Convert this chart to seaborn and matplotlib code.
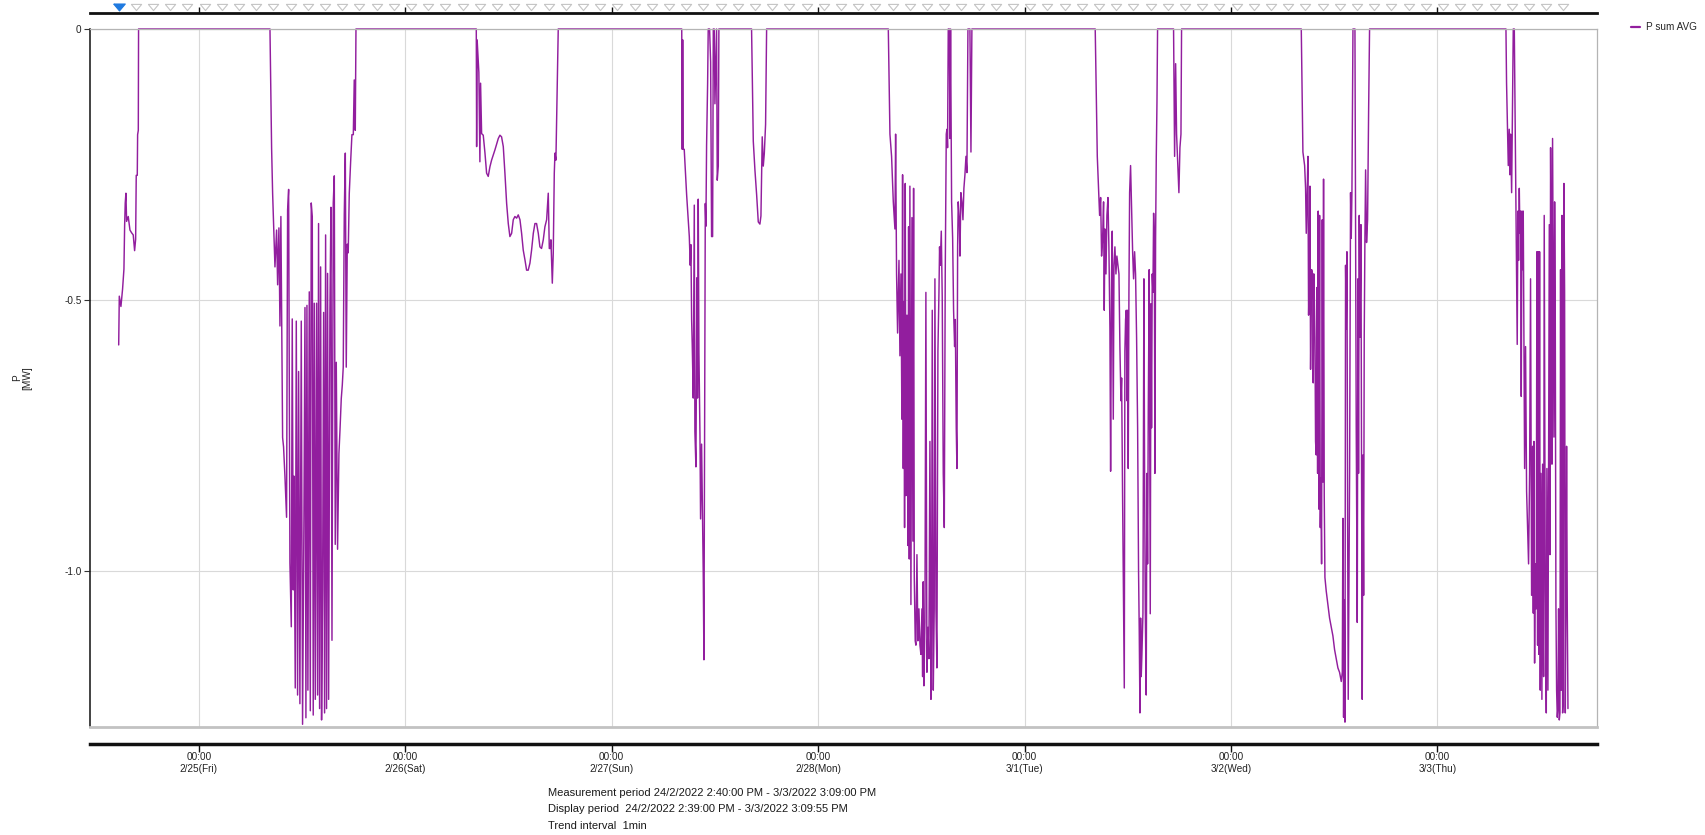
import numpy as np
import pandas as pd
import matplotlib
matplotlib.use("Agg")
import matplotlib.pyplot as plt
import matplotlib.dates as mdates
from matplotlib.ticker import FuncFormatter
import seaborn as sns

# ---------------- data (hours of day, P in MW) ----------------
day_0224 = "2022-02-24"
h_0224 = [14.67, 14.74, 14.93, 15.12, 15.28, 15.36, 15.43, 15.51, 15.59, 15.78,
          15.98, 16.17, 16.36, 16.52, 16.64, 16.71, 16.83, 16.87, 16.95, 16.98]
p_0224 = [-0.583, -0.493, -0.512, -0.480, -0.443, -0.363, -0.321, -0.303, -0.355, -0.346,
          -0.371, -0.376, -0.380, -0.409, -0.388, -0.270, -0.270, -0.195, -0.187, 0.0]

day_0225 = "2022-02-25"
h_0225 = [8.26, 8.45, 8.57, 8.84, 9.03, 9.15, 9.30, 9.42, 9.53, 9.73, 9.84, 10.00, 10.19,
          10.31, 10.43, 10.58, 10.74, 10.85, 10.97, 11.05, 11.20, 11.32, 11.47, 11.59,
          11.74, 11.90, 12.05, 12.21, 12.33, 12.44, 12.56, 12.67, 12.83, 12.95, 13.06,
          13.18, 13.29, 13.41, 13.53, 13.68, 13.80, 13.91, 14.03, 14.15, 14.26, 14.38,
          14.50, 14.61, 14.73, 14.84, 14.96, 15.08, 15.23, 15.35, 15.47, 15.62, 15.74,
          15.85, 15.97, 16.12, 16.28, 16.40, 16.55, 16.67, 16.78, 16.90, 17.02, 17.13,
          17.25, 17.36, 17.48, 17.64, 17.79, 17.95, 18.06, 18.18, 18.26]
p_0225 = [0.0, -0.220, -0.304, -0.439, -0.371, -0.472, -0.367, -0.548, -0.346, -0.754,
          -0.771, -0.825, -0.901, -0.334, -0.296, -0.985, -1.103, -0.535, -1.035, -0.825,
          -1.216, -0.539, -1.229, -0.632, -1.245, -0.539, -1.283, -0.901, -0.514, -1.271,
          -0.510, -1.220, -0.485, -1.258, -0.321, -0.346, -1.266, -0.506, -1.237, -0.506,
          -1.229, -0.359, -1.254, -0.439, -1.275, -1.035, -0.523, -1.262, -0.380, -1.254,
          -0.451, -1.237, -0.523, -0.329, -1.128, -0.321, -0.271, -0.951, -0.615, -0.960,
          -0.783, -0.741, -0.682, -0.657, -0.624, -0.342, -0.229, -0.624, -0.397, -0.413,
          -0.304, -0.245, -0.195, -0.195, -0.094, -0.187, 0.0]

day_0226 = "2022-02-26"
h_0226 = [8.25, 8.29, 8.35, 8.55, 8.67, 8.75, 8.87, 9.06, 9.26, 9.45, 9.64, 9.84, 10.03,
          10.42, 10.81, 11.00, 11.19, 11.39, 11.58, 11.78, 11.97, 12.16, 12.36, 12.55,
          12.74, 12.94, 13.13, 13.33, 13.52, 13.71, 13.91, 14.10, 14.29, 14.49, 14.68,
          14.88, 15.07, 15.26, 15.46, 15.65, 15.84, 16.04, 16.23, 16.43, 16.62, 16.74,
          16.85, 16.93, 17.09, 17.20, 17.32, 17.40, 17.51, 17.59, 17.78]
p_0226 = [0.0, -0.217, -0.020, -0.080, -0.245, -0.100, -0.193, -0.196, -0.229, -0.266,
          -0.272, -0.254, -0.242, -0.223, -0.202, -0.196, -0.199, -0.217, -0.266, -0.322,
          -0.359, -0.383, -0.377, -0.352, -0.346, -0.349, -0.343, -0.352, -0.377, -0.408,
          -0.426, -0.445, -0.445, -0.432, -0.408, -0.377, -0.359, -0.359, -0.377, -0.402,
          -0.405, -0.389, -0.365, -0.352, -0.303, -0.405, -0.405, -0.389, -0.469, -0.414,
          -0.266, -0.229, -0.242, -0.168, 0.0]

day_0227 = "2022-02-27"
h_0227 = [8.14, 8.20, 8.25, 8.32, 8.43, 8.71, 8.90, 9.02, 9.13, 9.21, 9.29, 9.36, 9.48,
          9.60, 9.67, 9.79, 9.91, 9.98, 10.06, 10.14, 10.26, 10.33, 10.45, 10.57, 10.64,
          10.72, 10.80, 10.88, 10.95, 11.03, 11.15, 11.22, 11.38, 11.50, 11.61, 11.73,
          11.81, 11.92, 12.00, 12.19, 12.27, 12.39, 12.46, 16.26, 16.46, 16.65, 16.85,
          17.04, 17.23, 17.35, 17.50, 17.62, 17.74, 17.89, 18.01]
p_0227 = [0.0, -0.222, -0.020, -0.222, -0.222, -0.306, -0.352, -0.383, -0.436, -0.398,
          -0.536, -0.582, -0.681, -0.325, -0.743, -0.808, -0.459, -0.681, -0.314, -0.597,
          -0.750, -0.904, -0.766, -0.911, -1.003, -1.164, -0.758, -0.322, -0.364, -0.214,
          -0.100, 0.0, 0.0, -0.061, -0.383, -0.383, 0.0, 0.0, -0.138, 0.0, -0.279, -0.253,
          0.0, 0.0, -0.207, -0.260, -0.306, -0.356, -0.360, -0.345, -0.199, -0.253, -0.230,
          -0.176, 0.0]

day_0228 = "2022-02-28"
h_0228 = [8.16, 8.35, 8.54, 8.74, 8.93, 9.01, 9.12, 9.24, 9.40, 9.51, 9.63, 9.74, 9.82,
          9.90, 9.98, 10.05, 10.13, 10.21, 10.33, 10.44, 10.52, 10.60, 10.67, 10.79, 10.91,
          11.02, 11.10, 11.18, 11.29, 11.37, 11.49, 11.60, 11.72, 11.84, 11.95, 12.07,
          12.15, 12.22, 12.30, 12.42, 12.53, 12.65, 12.77, 12.88, 13.00, 13.12, 13.19,
          13.27, 13.39, 13.50, 13.58, 13.70, 13.81, 13.93, 14.05, 14.12, 14.20, 14.32,
          14.43, 14.55, 14.67, 14.78, 14.90, 14.98, 15.05, 15.13, 15.25, 15.33, 15.40,
          15.52, 15.64, 15.75, 15.87, 15.95, 16.06, 16.14, 16.22, 16.29, 16.41, 16.49,
          16.60, 16.72, 16.84, 16.95, 17.07, 17.19, 17.30, 17.42, 17.50, 17.65, 17.77,
          17.88]
p_0228 = [0.0, -0.194, -0.235, -0.319, -0.369, -0.194, -0.452, -0.561, -0.427, -0.603,
          -0.452, -0.720, -0.269, -0.811, -0.503, -0.920, -0.285, -0.861, -0.528, -0.953,
          -0.365, -0.978, -0.290, -1.062, -0.348, -0.945, -0.294, -1.012, -1.129, -1.137,
          -0.970, -1.129, -1.070, -1.137, -1.154, -1.070, -1.195, -1.020, -1.212, -1.095,
          -0.486, -1.187, -1.104, -1.162, -0.761, -1.237, -1.154, -0.519, -1.220, -1.070,
          -0.461, -1.070, -1.179, -0.594, -0.486, -0.402, -0.436, -0.373, -0.494, -0.820,
          -0.920, -0.452, -0.194, -0.185, -0.219, 0.0, 0.0, -0.202, 0.0, -0.319, -0.386,
          -0.519, -0.586, -0.536, -0.736, -0.811, -0.402, -0.319, -0.352, -0.419, -0.302,
          -0.319, -0.352, -0.294, -0.269, -0.235, -0.265, 0.0, 0.0, 0.0, -0.227, 0.0]

day_0301 = "2022-03-01"
h_0301 = [8.22, 8.46, 8.61, 8.73, 8.85, 8.96, 9.08, 9.19, 9.27, 9.35, 9.47, 9.58, 9.70,
          9.81, 9.93, 10.01, 10.12, 10.20, 10.32, 10.40, 10.51, 10.63, 10.74, 10.86, 10.98,
          11.09, 11.21, 11.29, 11.40, 11.52, 11.60, 11.67, 11.75, 11.83, 11.91, 11.98,
          12.06, 12.14, 12.22, 12.33, 12.45, 12.57, 12.68, 12.80, 12.91, 13.03, 13.15,
          13.26, 13.34, 13.42, 13.50, 13.57, 13.65, 13.77, 13.88, 13.96, 14.04, 14.15,
          14.23, 14.31, 14.39, 14.50, 14.62, 14.70, 14.77, 14.85, 14.93, 15.01, 15.09,
          15.16, 15.24, 15.32, 15.40, 15.47, 17.33, 17.45, 17.57, 17.68, 17.84, 17.95,
          18.07, 18.19, 18.26]
p_0301 = [0.0, -0.235, -0.298, -0.344, -0.311, -0.419, -0.386, -0.319, -0.519, -0.369,
          -0.452, -0.344, -0.311, -0.402, -0.553, -0.816, -0.452, -0.373, -0.720, -0.436,
          -0.402, -0.452, -0.419, -0.436, -0.452, -0.586, -0.686, -0.644, -0.861, -1.070,
          -1.216, -0.594, -0.536, -0.519, -0.686, -0.519, -0.811, -0.486, -0.302, -0.252,
          -0.336, -0.411, -0.461, -0.411, -0.452, -0.569, -0.736, -1.003, -1.112, -1.262,
          -1.087, -1.195, -1.154, -1.078, -0.461, -0.820, -1.070, -1.229, -0.820, -0.987,
          -0.703, -0.444, -1.079, -0.507, -0.736, -0.452, -0.486, -0.340, -0.386, -0.820,
          -0.386, -0.235, -0.135, 0.0, 0.0, -0.235, -0.064, -0.194, -0.260, -0.302, -0.219,
          -0.194, 0.0]

day_0302 = "2022-03-02"
h_0302 = [8.18, 8.37, 8.57, 8.68, 8.76, 8.88, 8.95, 9.03, 9.11, 9.19, 9.26, 9.38, 9.50,
          9.57, 9.65, 9.77, 9.84, 9.92, 10.00, 10.08, 10.15, 10.23, 10.31, 10.39, 10.46,
          10.54, 10.62, 10.70, 10.77, 10.85, 10.93, 11.08, 11.28, 11.47, 11.67, 11.86,
          12.05, 12.25, 12.44, 12.63, 12.83, 12.95, 13.02, 13.10, 13.18, 13.26, 13.33,
          13.41, 13.49, 13.57, 13.64, 13.72, 13.80, 13.91, 13.99, 14.07, 14.19, 14.30,
          14.42, 14.57, 14.69, 14.77, 14.84, 14.92, 15.00, 15.12, 15.19, 15.27, 15.35,
          15.43, 15.50, 15.58, 15.66, 15.77, 15.89, 16.01, 16.12]
p_0302 = [0.0, -0.227, -0.252, -0.294, -0.377, -0.294, -0.235, -0.528, -0.452, -0.290,
          -0.628, -0.444, -0.452, -0.653, -0.452, -0.569, -0.761, -0.786, -0.477, -0.820,
          -0.336, -0.886, -0.344, -0.920, -0.828, -0.987, -0.352, -0.836, -0.277, -0.861,
          -1.012, -1.037, -1.062, -1.087, -1.104, -1.120, -1.145, -1.162, -1.179, -1.187,
          -1.204, -1.187, -0.903, -1.270, -1.053, -1.279, -0.436, -0.553, -0.411, -0.912,
          -1.237, -1.028, -0.820, -0.302, -0.386, -0.302, 0.0, 0.0, 0.0, -0.736, -1.095,
          -0.461, -0.820, -0.344, -0.569, -0.361, -0.820, -1.237, -0.786, -1.045, -0.569,
          -0.386, -0.260, -0.394, -0.352, -0.152, 0.0]

day_0303 = "2022-03-03"
h_0303 = [7.98, 8.05, 8.25, 8.36, 8.44, 8.52, 8.64, 8.71, 8.83, 8.95, 9.06, 9.14, 9.22,
          9.29, 9.37, 9.45, 9.53, 9.60, 9.68, 9.76, 9.84, 9.91, 9.99, 10.07, 10.15, 10.26,
          10.38, 10.50, 10.61, 10.73, 10.84, 10.96, 11.08, 11.16, 11.23, 11.31, 11.39,
          11.50, 11.58, 11.66, 11.74, 11.81, 11.89, 11.97, 12.05, 12.16, 12.24, 12.36,
          12.43, 12.55, 12.67, 12.74, 12.86, 12.94, 13.02, 13.09, 13.17, 13.25, 13.33,
          13.40, 13.48, 13.56, 13.64, 13.71, 13.79, 13.87, 13.95, 14.02, 14.10, 14.18,
          14.26, 14.33, 14.41, 14.49, 14.57, 14.64, 14.72, 14.80, 14.88, 14.95, 15.03,
          15.11, 15.19]
p_0303 = [0.0, -0.100, -0.252, -0.185, -0.269, -0.194, -0.302, -0.185, 0.0, 0.0, -0.185,
          -0.327, -0.452, -0.582, -0.336, -0.427, -0.294, -0.377, -0.336, -0.678, -0.336,
          -0.444, -0.336, -0.569, -0.811, -0.586, -0.853, -0.920, -0.987, -0.820, -0.461,
          -1.045, -0.770, -1.078, -0.761, -1.170, -0.987, -1.070, -0.411, -1.137, -0.411,
          -1.154, -0.411, -1.220, -0.820, -1.237, -0.803, -1.195, -0.344, -1.037, -1.262,
          -0.811, -1.220, -0.820, -0.361, -0.970, -0.219, -0.486, -0.803, -0.202, -0.469,
          -0.753, -0.319, -0.503, -1.062, -1.220, -1.270, -1.254, -1.070, -1.275, -1.262,
          -0.444, -1.220, -0.344, -1.262, -1.237, -0.285, -0.486, -1.262, -1.070, -0.770,
          -1.070, -1.254]

series_label = "P sum AVG"
ytick_values = [0.0, -0.5, -1.0]
ytick_labels = ["0", "-0.5", "-1.0"]
info_lines = ["Measurement period 24/2/2022 2:40:00 PM - 3/3/2022 3:09:00 PM",
              "Display period  24/2/2022 2:39:00 PM - 3/3/2022 3:09:55 PM",
              "Trend interval  1min"]

# ---------------- build frame ----------------
segments = [(day_0224, h_0224, p_0224), (day_0225, h_0225, p_0225),
            (day_0226, h_0226, p_0226), (day_0227, h_0227, p_0227),
            (day_0228, h_0228, p_0228), (day_0301, h_0301, p_0301),
            (day_0302, h_0302, p_0302), (day_0303, h_0303, p_0303)]
frames = []
for d, h, p in segments:
    t = pd.Timestamp(d) + pd.to_timedelta(np.array(h), unit="h")
    frames.append(pd.DataFrame({"time": t, "P": p}))
df = pd.concat(frames, ignore_index=True)

# ---------------- figure ----------------
sns.set_style("white")
plt.rcParams["font.family"] = ["Liberation Sans", "DejaVu Sans"]

W, H = 1705, 835
fig = plt.figure(figsize=(W / 100, H / 100), dpi=100)


def rect(l, t, r, b):
    return [l / W, 1 - b / H, (r - l) / W, (b - t) / H]


ax = fig.add_axes(rect(90, 29, 1597, 727))
ax_top = fig.add_axes(rect(90, 0, 1597, 13), sharex=ax)
ax_bot = fig.add_axes(rect(90, 742, 1597, 744), sharex=ax)

PURPLE = "#921e9e"
FS = 7.2

sns.lineplot(data=df, x="time", y="P", ax=ax, color=PURPLE, linewidth=1.05,
             estimator=None, label=series_label, legend=False)
for ln in ax.get_lines():
    ln.set_clip_on(False)

x0 = pd.Timestamp("2022-02-24 11:20")
x1 = pd.Timestamp("2022-03-03 18:34")
ax.set_xlim(x0, x1)
ax.set_ylim(-1.288, 0)

day_ticks = pd.date_range("2022-02-25", "2022-03-03", freq="D")
ax.set_xticks(day_ticks)
ax.xaxis.set_major_formatter(FuncFormatter(
    lambda v, pos: mdates.num2date(v).strftime("%H:%M\n%-m/%-d(%a)")))

ax.set_yticks(ytick_values)
ax.set_yticklabels(ytick_labels)
ax.grid(True, color="#d9d9d9", linewidth=0.8)
ax.set_axisbelow(True)
ax.set_xlabel("")
ax.set_ylabel("P\n[MW]", fontsize=FS, color="#222222", linespacing=1.1)
ax.yaxis.set_label_coords(-0.038, 0.5)
ax.tick_params(axis="x", length=0, labelbottom=False)
ax.tick_params(axis="y", direction="out", length=4, width=0.8, color="#333333",
               labelsize=FS, labelcolor="#222222", pad=2, left=True)
for s in ["top", "right"]:
    ax.spines[s].set_color("#b4b4b4")
    ax.spines[s].set_linewidth(0.9)
ax.spines["bottom"].set_color("#c2c2c2")
ax.spines["bottom"].set_linewidth(2.0)
ax.spines["left"].set_color("#222222")
ax.spines["left"].set_linewidth(1.2)

leg = ax.legend(loc="upper left", bbox_to_anchor=(1631 / W, 1 - 22 / H),
                bbox_transform=fig.transFigure, frameon=False, fontsize=FS,
                handlelength=0.9, handletextpad=0.6, borderpad=0, borderaxespad=0)
for lh in leg.get_lines():
    lh.set_linewidth(1.6)

# top strip with markers
ax_top.set_ylim(0, 1)
ax_top.patch.set_visible(False)
for s in ["top", "left", "right"]:
    ax_top.spines[s].set_visible(False)
ax_top.spines["bottom"].set_color("#111111")
ax_top.spines["bottom"].set_linewidth(2.0)
ax_top.tick_params(axis="x", direction="in", length=4.5, width=1, color="#111111",
                   labelbottom=False, bottom=True)
ax_top.set_yticks([])
tri = [(-1.0, 0.6), (1.0, 0.6), (0.0, -0.6), (-1.0, 0.6)]
marks = pd.date_range("2022-02-24 14:40", periods=85, freq="2h")
ax_top.scatter(marks[1:], np.full(len(marks) - 1, 0.5), marker=tri, s=55,
               facecolor="white", edgecolor="#c4c4c4", linewidth=0.8, clip_on=False)
ax_top.scatter(marks[:1], [0.5], marker=tri, s=70, facecolor="#1f7ae0",
               edgecolor="#1f7ae0", linewidth=0.8, clip_on=False)

# bottom time axis
ax_bot.patch.set_visible(False)
for s in ["top", "left", "right"]:
    ax_bot.spines[s].set_visible(False)
ax_bot.spines["bottom"].set_color("#111111")
ax_bot.spines["bottom"].set_linewidth(2.5)
ax_bot.set_yticks([])
ax_bot.tick_params(axis="x", direction="out", length=5.5, width=1, color="#111111",
                   labelsize=FS, labelcolor="#222222", pad=0.3, bottom=True,
                   labelbottom=True)
for lbl in ax_bot.get_xticklabels():
    lbl.set_linespacing(1.25)

# info text
for i, line in enumerate(info_lines):
    fig.text(548 / W, 1 - (793 + 16.5 * i) / H, line, ha="left", va="center",
             fontsize=8.0, color="#1a1a1a")

fig.savefig("out.png", dpi=100)
